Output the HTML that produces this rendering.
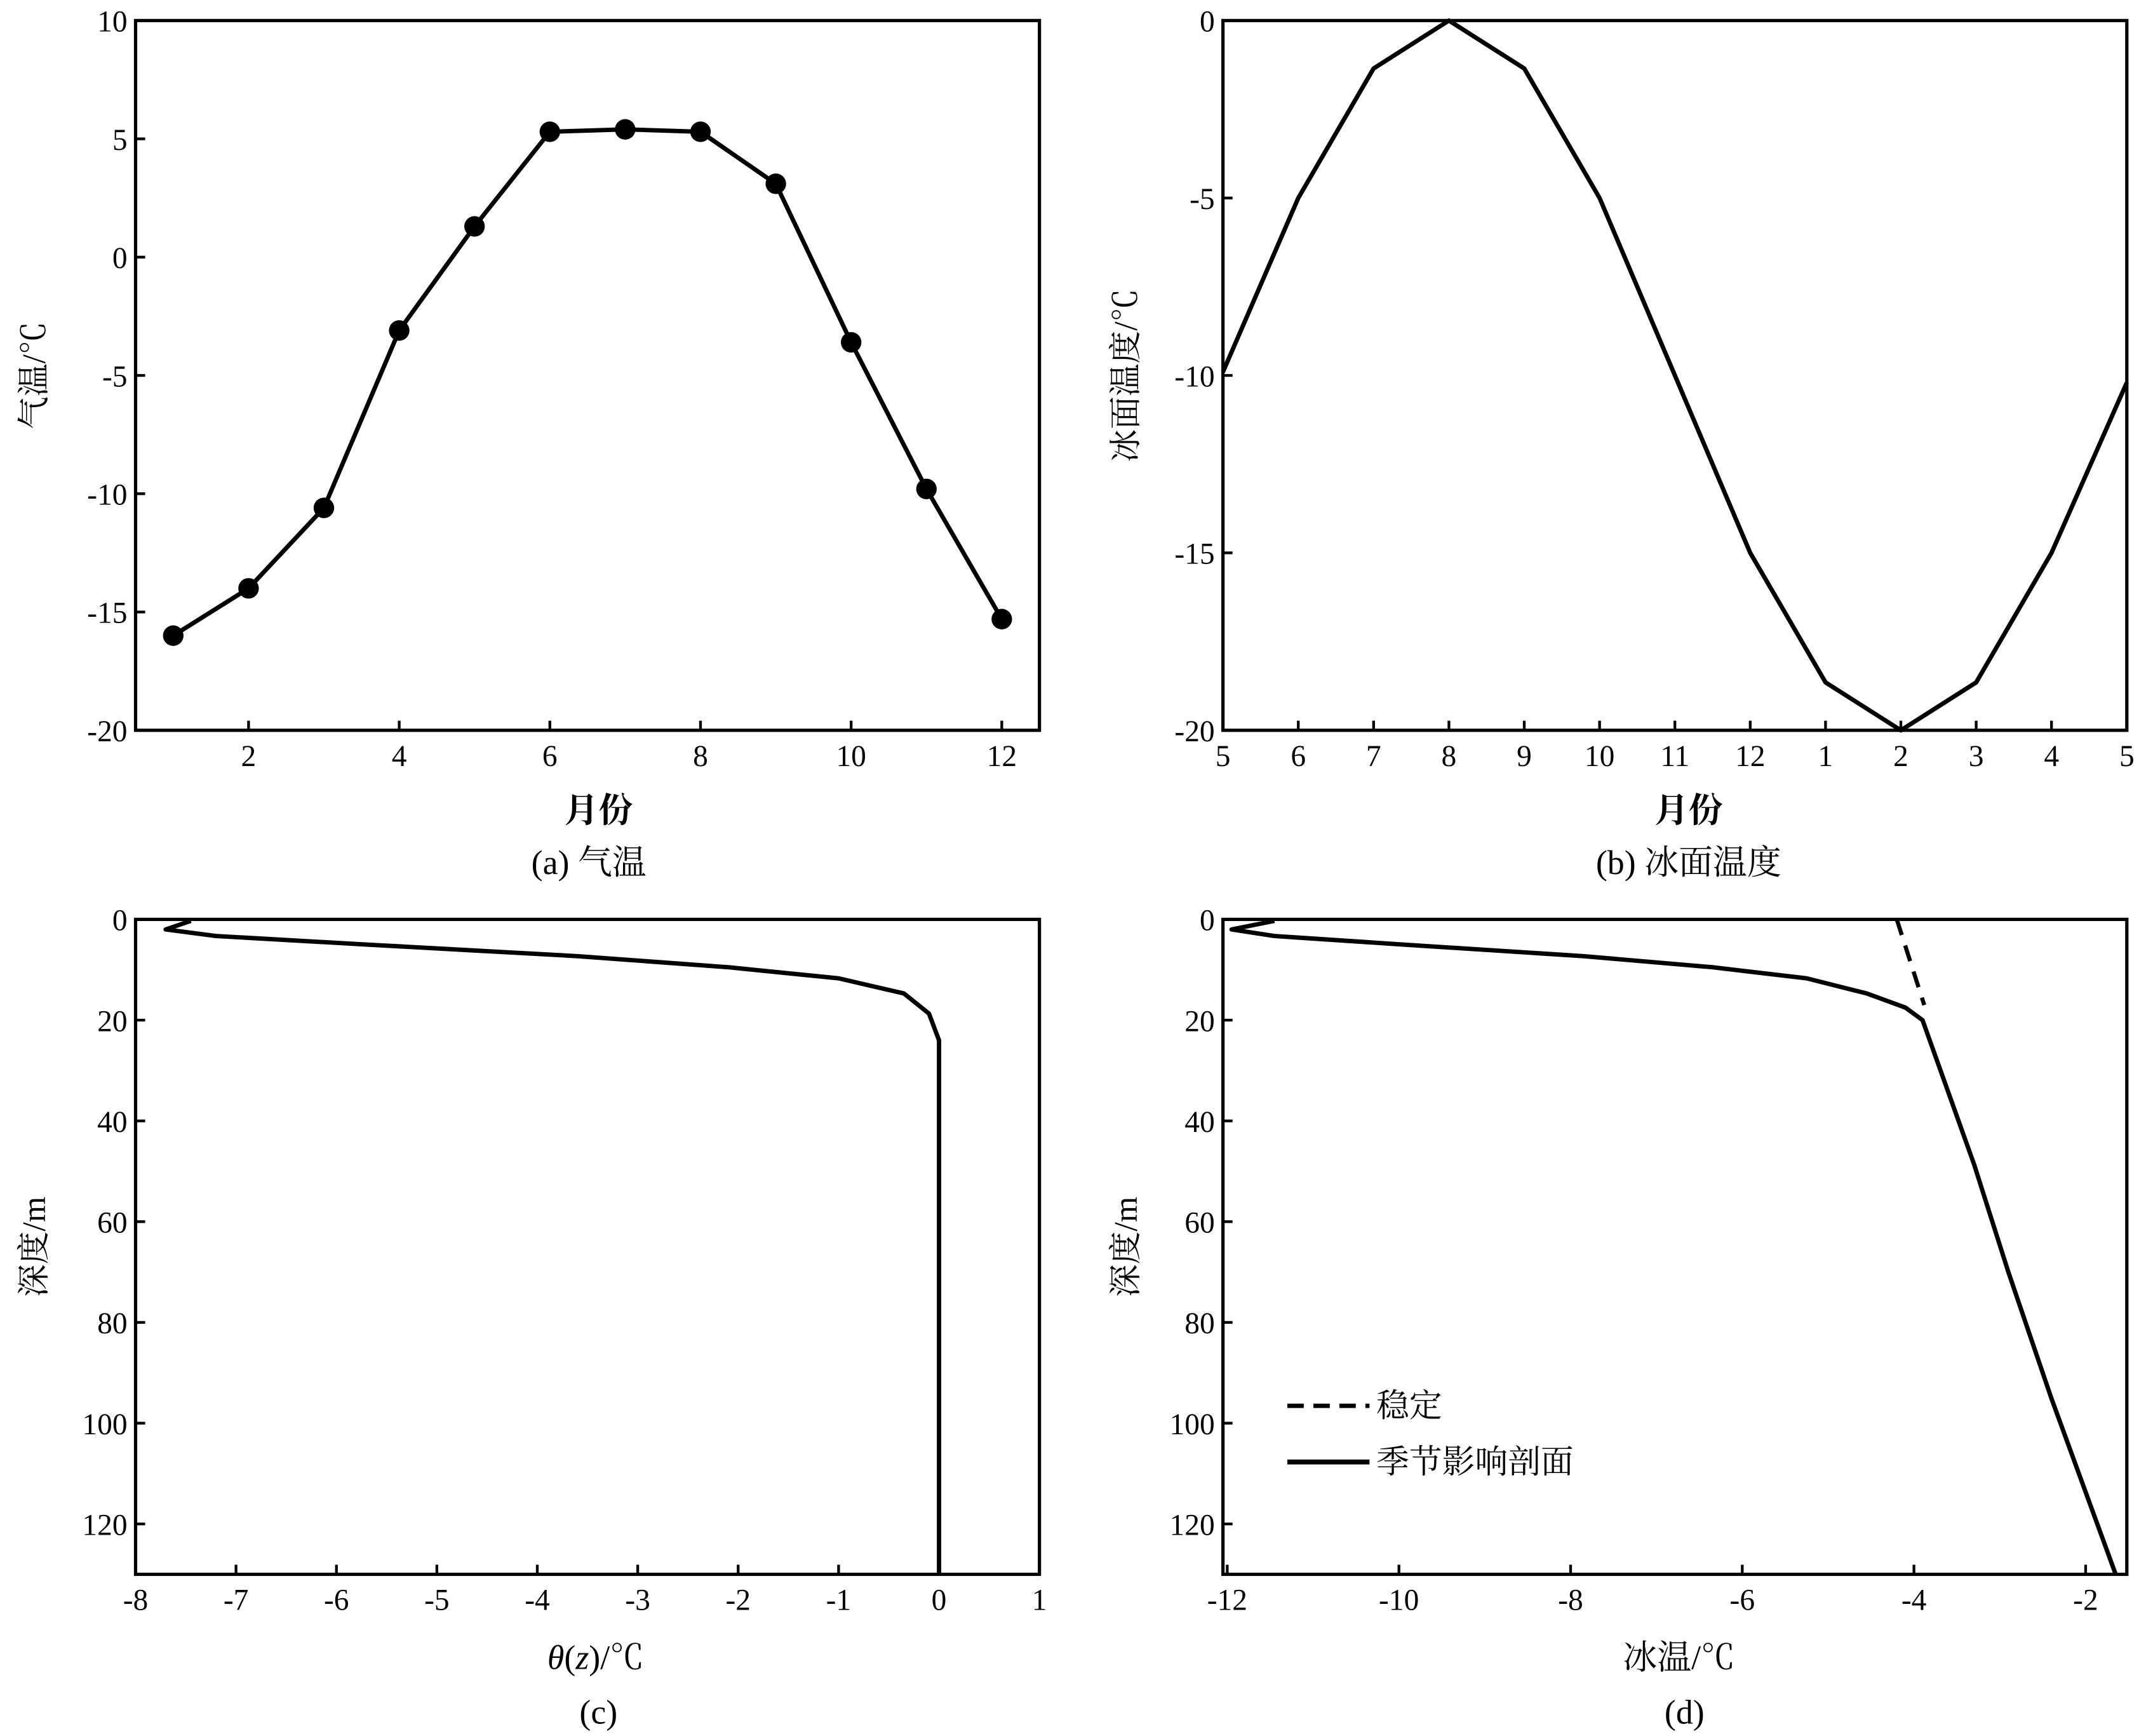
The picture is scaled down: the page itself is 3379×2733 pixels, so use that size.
<!DOCTYPE html>
<html><head><meta charset="utf-8"><style>
html,body{margin:0;padding:0;background:#fff;}
svg{display:block;}
text{font-family:"Liberation Serif","Noto Serif CJK SC","Noto Sans CJK SC",serif;fill:#000;}
</style></head><body>
<svg id="fig" xmlns="http://www.w3.org/2000/svg" width="3379" height="2733" viewBox="0 0 1567 1267" preserveAspectRatio="none">
<rect x="0" y="0" width="1567" height="1267" fill="#fff"/>
</svg>
<script>
// Panel (a) data
const monthsA = [1,2,3,4,5,6,7,8,9,10,11,12];
const airTemp = [-16,-14,-10.6,-3.1,1.3,5.3,5.4,5.3,3.1,-3.6,-9.8,-15.3];
const ticksAX = [2,4,6,8,10,12];
const ticksAY = [-20,-15,-10,-5,0,5,10];
// Panel (b) data
const monthLabelsB = ["5","6","7","8","9","10","11","12","1","2","3","4","5"];
const iceSurf = [-9.9,-5,-1.35,0,-1.35,-5,-10,-15,-18.65,-20,-18.65,-15,-10.2];
const ticksBY = [-20,-15,-10,-5,0];
// Panel (c) data
const thetaC = [-7.45,-7.7,-7.2,-5.7,-3.6,-2.1,-1.0,-0.35,-0.1,0,0];
const depthC = [0.3,2,3.3,5,7.3,9.5,11.7,14.7,18.7,24,130];
const ticksCX = [-8,-7,-6,-5,-4,-3,-2,-1,0,1];
const ticksDepth = [0,20,40,60,80,100,120];
// Panel (d) data
const tempD = [-11.45,-11.95,-11.45,-9.95,-7.85,-6.35,-5.25,-4.55,-4.1,-3.9,-3.3,-2.9,-2.4,-1.65];
const depthD = [0.3,2,3.3,5,7.3,9.5,11.7,14.7,17.5,20,48.6,70,95,130];
const stableT = [-4.2,-3.88];
const stableZ = [0,17];
const ticksDX = [-12,-10,-8,-6,-4,-2];

const NS="http://www.w3.org/2000/svg";
const svg=document.getElementById('fig');
function mk(tag,attrs,parent){const e=document.createElementNS(NS,tag);for(const k in attrs)e.setAttribute(k,attrs[k]);(parent||svg).appendChild(e);return e;}
function lin(d0,d1,r0,r1){return v=>r0+(v-d0)*(r1-r0)/(d1-d0);}

function frame(g,x0,y0,x1,y1){
  const r=mk('rect',{x:x0,y:y0,width:x1-x0,height:y1-y0,fill:'none',stroke:'#000','stroke-width':2.4},g);
  
  
}
function xtick(g,x,y,label,fs){
  const t=mk('line',{x1:x,x2:x,y1:y,y2:y-7,stroke:'#000','stroke-width':2},g);
  
  
  const tx=mk('text',{x:x,y:y+26,'text-anchor':'middle','font-size':fs||22},g);
  tx.textContent=label;
  
  
}
function ytick(g,x,y,label){
  const t=mk('line',{x1:x,x2:x+7,y1:y,y2:y,stroke:'#000','stroke-width':2},g);
  
  
  const tx=mk('text',{x:x-6,y:y+8,'text-anchor':'end','font-size':22},g);
  tx.textContent=label;
  
  
}
function text(g,x,y,s,fs,name,extra){
  const tx=mk('text',Object.assign({x:x,y:y,'text-anchor':'middle','font-size':fs},extra||{}),g);
  tx.textContent=s;
  
  
  return tx;
}
function ylabel(g,x,y,s,name){
  const tx=mk('text',{x:0,y:0,'text-anchor':'middle','font-size':24,transform:`translate(${x},${y}) rotate(-90)`},g);
  tx.textContent=s;
  
  
}
function poly(g,xs,ys,sx,sy,w,dash,name){
  const pts=xs.map((v,i)=>sx(v).toFixed(2)+','+sy(ys[i]).toFixed(2)).join(' ');
  const a={points:pts,fill:'none',stroke:'#000','stroke-width':w,'stroke-linejoin':'round'};
  if(dash)a['stroke-dasharray']=dash;
  const p=mk('polyline',a,g);
  
  
}

// Panel A
{
const g=mk('g',{});


const x0=99,x1=759,y0=15,y1=533;
const sx=lin(0.5,12.5,x0,x1), sy=lin(-20,10,y1,y0);
frame(g,x0,y0,x1,y1);
ticksAX.forEach(v=>xtick(g,sx(v),y1,String(v)));
ticksAY.forEach(v=>ytick(g,x0,sy(v),String(v)));
poly(g,monthsA,airTemp,sx,sy,3.2,null,'air-temp-line');
monthsA.forEach((m,i)=>{
  const c=mk('circle',{cx:sx(m),cy:sy(airTemp[i]),r:7.5,fill:'#000'},g);
  
  
});
text(g,437,600,'月份',25,'x-axis-title',{'font-weight':'bold'});
ylabel(g,33,274,'气温/℃','y-axis-title');
text(g,430,638,'(a) 气温',25,'panel-caption');
}
// Panel B
{
const g=mk('g',{});


const x0=893,x1=1553,y0=15,y1=533;
const sx=lin(0,12,x0,x1), sy=lin(-20,0,y1,y0);
frame(g,x0,y0,x1,y1);
monthLabelsB.forEach((l,i)=>xtick(g,sx(i),y1,l));
ticksBY.forEach(v=>ytick(g,x0,sy(v),String(v)));
poly(g,monthLabelsB.map((_,i)=>i),iceSurf,sx,sy,3.2,null,'ice-surface-temp-line');
text(g,1233,600,'月份',25,'x-axis-title',{'font-weight':'bold'});
ylabel(g,830,274,'冰面温度/℃','y-axis-title');
text(g,1233,638,'(b) 冰面温度',25,'panel-caption');
}
// Panel C
{
const g=mk('g',{});


const x0=99,x1=759,y0=671,y1=1149;
const sx=lin(-8,1,x0,x1), sy=lin(0,130,y0,y1);
frame(g,x0,y0,x1,y1);
ticksCX.forEach(v=>xtick(g,sx(v),y1,String(v)));
ticksDepth.forEach(v=>ytick(g,x0,sy(v),String(v)));
poly(g,thetaC,depthC,sx,sy,3.2,null,'theta-profile-line');
const t=text(g,435,1218,'',25,'x-axis-title');
t.innerHTML='<tspan font-style="italic">θ</tspan>(<tspan font-style="italic">z</tspan>)/℃';
ylabel(g,33,910,'深度/m','y-axis-title');
text(g,437,1258,'(c)',25,'panel-caption');
}
// Panel D
{
const g=mk('g',{});


const x0=893,x1=1553,y0=671,y1=1149;
const sx=lin(-12.05,-1.52,x0,x1), sy=lin(0,130,y0,y1);
frame(g,x0,y0,x1,y1);
ticksDX.forEach(v=>xtick(g,sx(v),y1,String(v)));
ticksDepth.forEach(v=>ytick(g,x0,sy(v),String(v)));
poly(g,stableT,stableZ,sx,sy,3,'12,8','stable-profile-line');
poly(g,tempD,depthD,sx,sy,3.2,null,'seasonal-profile-line');
text(g,1226,1218,'冰温/℃',25,'x-axis-title');
ylabel(g,830,910,'深度/m','y-axis-title');
text(g,1230,1258,'(d)',25,'panel-caption');
const lg=mk('g',{},g);


const l1=mk('line',{x1:940,x2:1000,y1:1026,y2:1026,stroke:'#000','stroke-width':3.2,'stroke-dasharray':'12,7'},lg);


text(lg,1005,1034,'稳定',24,'legend-label-stable',{'text-anchor':'start'});
const l2=mk('line',{x1:940,x2:1000,y1:1067,y2:1067,stroke:'#000','stroke-width':3.6},lg);


text(lg,1005,1075,'季节影响剖面',24,'legend-label-seasonal',{'text-anchor':'start'});
}
</script>
</body></html>
